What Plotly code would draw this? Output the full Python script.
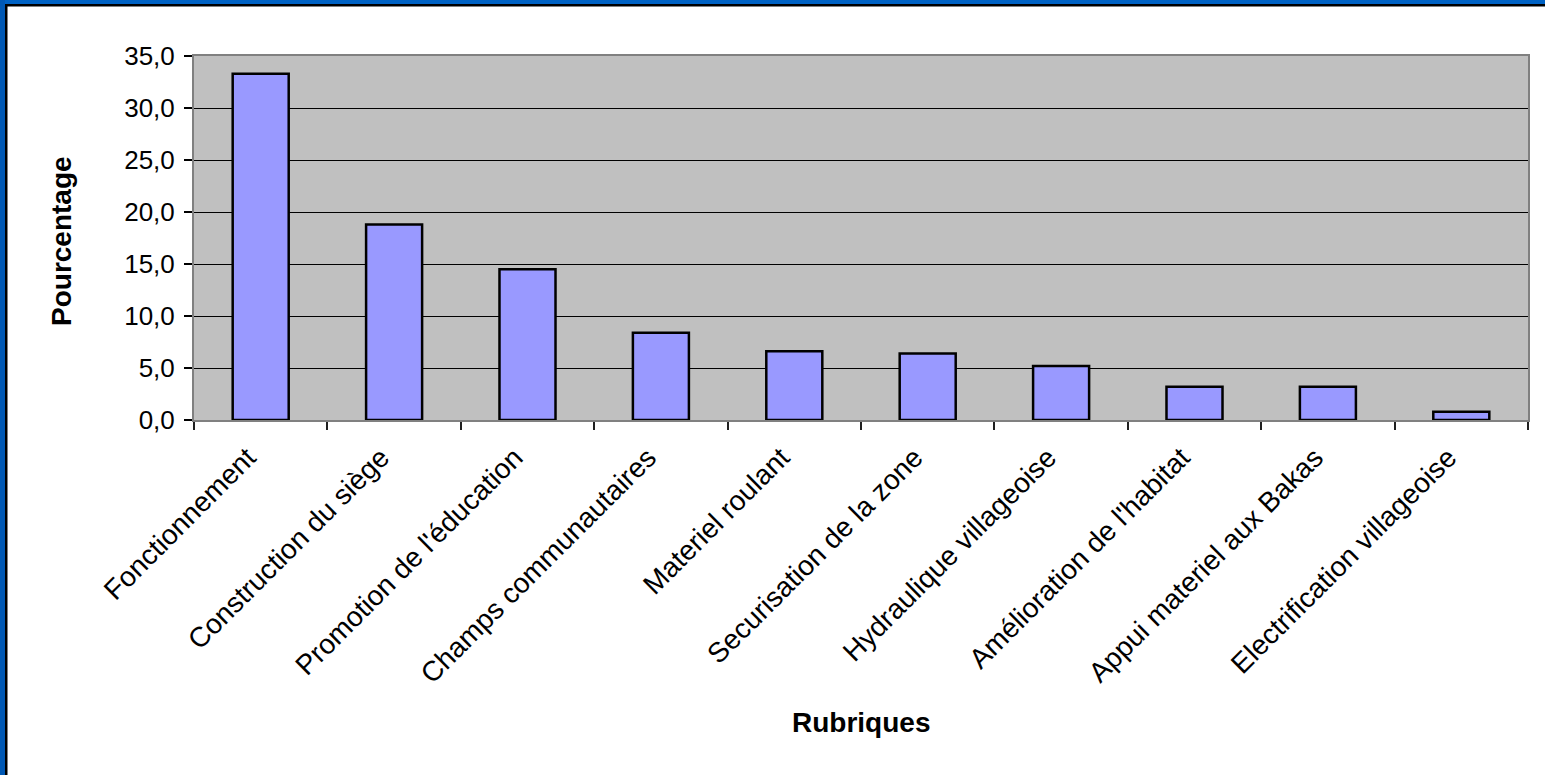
import plotly.graph_objects as go

categories = [
    "Fonctionnement",
    "Construction du siège",
    "Promotion de l'éducation",
    "Champs communautaires",
    "Materiel roulant",
    "Securisation de la zone",
    "Hydraulique villageoise",
    "Amélioration de l'habitat",
    "Appui materiel aux Bakas",
    "Electrification villageoise",
]
values = [33.3, 18.8, 14.5, 8.4, 6.6, 6.4, 5.2, 3.2, 3.2, 0.8]
y_ticks = [0, 5, 10, 15, 20, 25, 30, 35]

W, H = 1545, 775
L, R, T, B = 194, 17, 56, 355
PW, PH = W - L - R, H - T - B


def px(x):
    return (x - L) / PW


def py(y):
    return (H - B - y) / PH


FONT = "Liberation Sans, Arial, sans-serif"

fig = go.Figure(
    go.Bar(
        x=categories,
        y=values,
        width=0.42,
        marker=dict(color="#9999FF", line=dict(color="#000000", width=2.5)),
        hoverinfo="x+y",
    )
)

shapes = [
    dict(type="rect", xref="paper", yref="paper", x0=px(0), x1=px(W), y0=py(0), y1=py(4),
         fillcolor="#0062C4", line=dict(width=0), layer="above"),
    dict(type="rect", xref="paper", yref="paper", x0=px(0), x1=px(5), y0=py(0), y1=py(H),
         fillcolor="#0058B4", line=dict(width=0), layer="above"),
    dict(type="rect", xref="paper", yref="paper", x0=px(5), x1=px(W), y0=py(4), y1=py(6.5),
         fillcolor="#000000", line=dict(width=0), layer="above"),
    dict(type="rect", xref="paper", yref="paper", x0=px(5), x1=px(7.5), y0=py(4), y1=py(H),
         fillcolor="#000000", line=dict(width=0), layer="above"),
]

fig.update_layout(
    width=W,
    height=H,
    margin=dict(l=L, r=R, t=T, b=B, pad=0),
    paper_bgcolor="#FFFFFF",
    plot_bgcolor="#C0C0C0",
    separators=", ",
    showlegend=False,
    font=dict(family=FONT, size=26, color="#000000"),
    shapes=shapes,
    annotations=[
        dict(text="<b>Pourcentage</b>", xref="paper", yref="paper", x=px(61), y=py(241),
             textangle=-90, showarrow=False, font=dict(size=28, family=FONT),
             xanchor="center", yanchor="middle"),
        dict(text="<b>Rubriques</b>", xref="paper", yref="paper", x=0.5, y=py(722),
             showarrow=False, font=dict(size=28, family=FONT),
             xanchor="center", yanchor="middle"),
    ],
    xaxis=dict(
        type="category",
        tickangle=-45,
        tickson="boundaries",
        ticks="outside",
        ticklen=8,
        tickwidth=1.5,
        tickcolor="#202020",
        showline=True,
        linecolor="#808080",
        linewidth=2,
        mirror=True,
        showgrid=False,
        tickfont=dict(size=28, family=FONT),
        ticklabelstandoff=8,
        ticklabelshift=-13,
        fixedrange=True,
    ),
    yaxis=dict(
        range=[0, 35],
        tickvals=y_ticks,
        tickformat=".1f",
        ticks="outside",
        ticklen=8,
        tickwidth=1.5,
        tickcolor="#000000",
        showline=True,
        linecolor="#808080",
        linewidth=2,
        mirror=True,
        showgrid=True,
        gridcolor="#000000",
        gridwidth=1,
        zeroline=False,
        tickfont=dict(size=26, family=FONT),
        ticklabelstandoff=4,
        fixedrange=True,
    ),
)

fig.write_html(
    "out.html",
    config={"displayModeBar": False},
    post_script="document.body.style.margin='0';document.body.style.overflow='hidden';",
)
